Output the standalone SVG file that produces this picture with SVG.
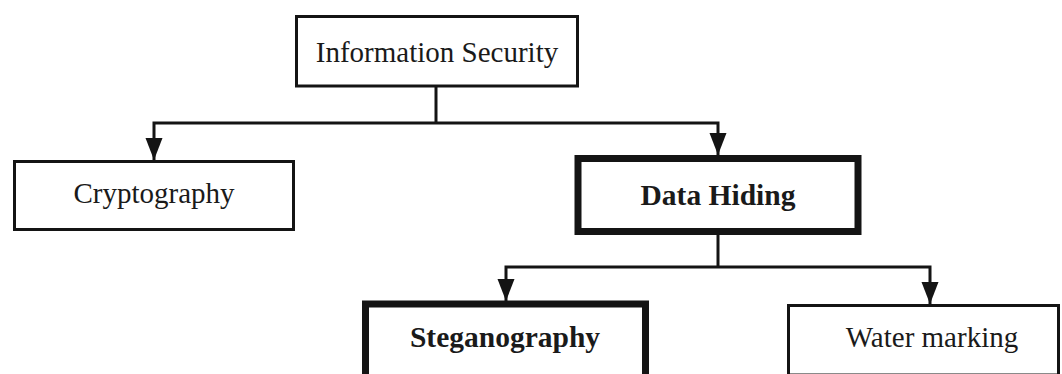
<svg xmlns="http://www.w3.org/2000/svg" width="1062" height="374" viewBox="0 0 1062 374">
  <style>
    .box { fill: #ffffff; stroke: #141414; stroke-width: 3; }
    .box.strong { stroke-width: 7; }
    .label { font-family: "Liberation Serif", "Times New Roman", serif; font-size: 29px; fill: #1a1a1a; text-anchor: middle; }
    .label.bold { font-weight: bold; font-size: 29.5px; }
    .link { fill: none; stroke: #141414; stroke-width: 3; stroke-linejoin: miter; }
  </style>
  <defs>
    <marker id="arrow" markerUnits="userSpaceOnUse" markerWidth="23" markerHeight="18" refX="22" refY="8.5" orient="auto">
      <path d="M0,0 L22,8.5 L0,17 Z" fill="#141414"/>
    </marker>
  </defs>
  <rect width="1062" height="374" fill="#ffffff"/>

  <g id="connectors">
    <!-- Information Security to its two children -->
    <path class="link" d="M436,86 V123"/>
    <path class="link" d="M436,123 H154 V160" marker-end="url(#arrow)"/>
    <path class="link" d="M436,123 H718 V155" marker-end="url(#arrow)"/>
    <!-- Data Hiding to its two children -->
    <path class="link" d="M718,235 V267"/>
    <path class="link" d="M718,267 H506 V301" marker-end="url(#arrow)"/>
    <path class="link" d="M718,267 H930 V304" marker-end="url(#arrow)"/>
  </g>

  <g id="node-information-security">
    <rect class="box" x="296.5" y="16.5" width="281" height="69.5"/>
    <text class="label" x="437" y="62">Information Security</text>
  </g>

  <g id="node-cryptography">
    <rect class="box" x="14.5" y="161.5" width="279" height="68"/>
    <text class="label" x="154" y="203">Cryptography</text>
  </g>

  <g id="node-data-hiding">
    <rect class="box strong" x="578" y="158.5" width="280" height="73"/>
    <text class="label bold" x="718" y="205">Data Hiding</text>
  </g>

  <g id="node-steganography">
    <rect class="box strong" x="365.5" y="304" width="280" height="73.5"/>
    <text class="label bold" x="505" y="347">Steganography</text>
  </g>

  <g id="node-water-marking">
    <rect class="box" x="788.5" y="305.5" width="270" height="69.5"/>
    <text class="label" x="932" y="347">Water marking</text>
  </g>
</svg>
